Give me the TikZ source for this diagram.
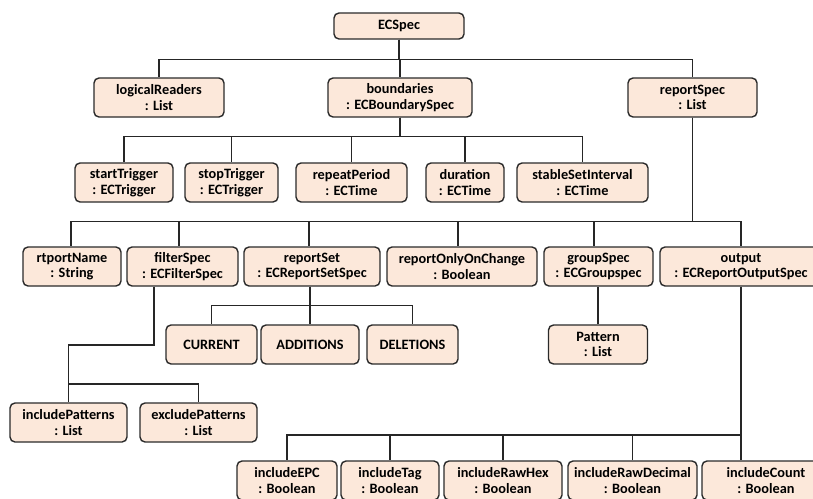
\documentclass[tikz,border=0pt]{standalone}
\usepackage{fontspec}
\setmainfont{Carlito}
\definecolor{boxfill}{HTML}{FCE8DA}
\definecolor{boxline}{HTML}{2A2A2A}
\begin{document}
\begin{tikzpicture}[x=1pt,y=-1pt,
  bx/.style={draw=boxline, fill=boxfill, line width=1.4pt, rounded corners=5pt,
    align=center, inner sep=0pt, minimum height=39pt,
    font=\fontsize{14.3}{15.5}\selectfont\bfseries},
  ln/.style={draw=black!85, line width=1.3pt}]
\useasboundingbox (0,0) rectangle (813,498);
% row 0
\node[bx, minimum width=130pt, minimum height=26pt] (ecspec) at (399,26) {ECSpec};
% row 1
\node[bx, minimum width=130pt] (logical) at (159,97.5) {logicalReaders\\: List};
\node[bx, minimum width=144pt] (bound) at (400,97.5) {boundaries\\: ECBoundarySpec};
\node[bx, minimum width=129pt] (rspec) at (692.5,97.5) {reportSpec\\: List};
% row 2
\node[bx, minimum width=98pt] (start) at (124,182.5) {startTrigger\\: ECTrigger};
\node[bx, minimum width=93pt] (stop) at (231.5,182.5) {stopTrigger\\: ECTrigger};
\node[bx, minimum width=111pt] (repeat) at (351.5,182.5) {repeatPeriod\\: ECTime};
\node[bx, minimum width=78pt] (dur) at (465,182.5) {duration\\: ECTime};
\node[bx, minimum width=131pt] (stable) at (582.5,182.5) {stableSetInterval\\: ECTime};
% row 3
\node[bx, minimum width=98pt] (rname) at (72,266.5) {rtportName\\: String};
\node[bx, minimum width=111pt] (filter) at (182.5,266.5) {filterSpec\\: ECFilterSpec};
\node[bx, minimum width=136pt] (rset) at (312,266.5) {reportSet\\: ECReportSetSpec};
\node[bx, minimum width=150pt] (ronly) at (462,266.5) {reportOnlyOnChange\\: Boolean};
\node[bx, minimum width=109pt] (group) at (598.5,266.5) {groupSpec\\: ECGroupspec};
\node[bx, minimum width=162pt] (output) at (741,266.5) {output\\: ECReportOutputSpec};
% row 4
\node[bx, minimum width=91pt] (cur) at (211.5,344.5) {CURRENT};
\node[bx, minimum width=98pt] (add) at (310,344.5) {ADDITIONS};
\node[bx, minimum width=91pt] (del) at (412.5,344.5) {DELETIONS};
\node[bx, minimum width=99pt] (pat) at (598,344.5) {Pattern\\: List};
% row 5
\node[bx, minimum width=117pt] (incp) at (68.5,422.5) {includePatterns\\: List};
\node[bx, minimum width=117pt] (excp) at (198.5,422.5) {excludePatterns\\: List};
% row 6
\node[bx, minimum width=100pt] (iepc) at (287,480.5) {includeEPC\\: Boolean};
\node[bx, minimum width=98pt] (itag) at (390,480.5) {includeTag\\: Boolean};
\node[bx, minimum width=118pt] (ihex) at (503,480.5) {includeRawHex\\: Boolean};
\node[bx, minimum width=129pt] (idec) at (632.5,480.5) {includeRawDecimal\\: Boolean};
\node[bx, minimum width=128pt] (icnt) at (766,480.5) {includeCount\\: Boolean};
% connectors
\foreach \c in {logical,bound,rspec}
  \draw[ln] (ecspec.south) -- ++(0,20) -| (\c.north);
\foreach \c in {start,stop,repeat,dur,stable}
  \draw[ln] (bound.south) -- ++(0,19) -| (\c.north);
\foreach \c/\s in {rname/-1,filter/-3.5,rset/-3,ronly/-4,group/-4.5,output/0}
  \draw[ln] (rspec.south) -- ++(0,104) -| ([xshift=\s pt]\c.north);
\foreach \c in {cur,add,del}
  \draw[ln] ([xshift=-2pt]rset.south) -- ++(0,19) -| (\c.north);
\draw[ln] (pat.north) -- (pat.north |- group.south);
\coordinate (fbend) at (68.5,345);
\coordinate (fbus) at (0,384);
\draw[ln] ([xshift=-28.5pt]filter.south) |- (fbend) -- (incp.north);
\draw[ln] (incp.north |- fbus) -| (excp.north);
\coordinate (obus) at (0,435);
\draw[ln] (output.south) -- (output.south |- icnt.north);
\foreach \c in {iepc,itag,ihex,idec}
  \draw[ln] (output.south |- obus) -| (\c.north);
\end{tikzpicture}
\end{document}
